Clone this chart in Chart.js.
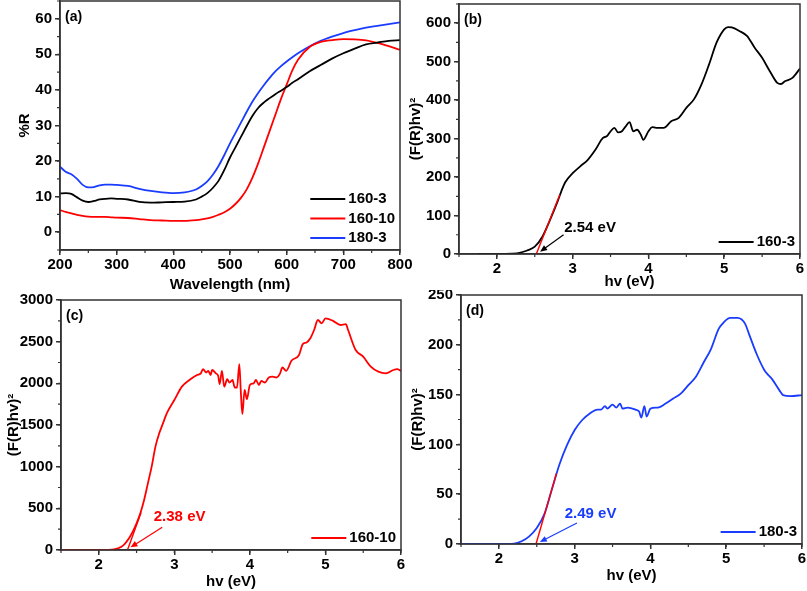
<!DOCTYPE html>
<html>
<head>
<meta charset="utf-8">
<script src="https://cdn.jsdelivr.net/npm/chart.js@4.4.1/dist/chart.umd.min.js"></script>
<style>
  body { margin: 0; background: #fff; }
  #wrap { position: relative; width: 807px; height: 591px; overflow: hidden; background: #fff; }
  canvas { position: absolute; }
</style>
</head>
<body>
<div id="wrap">
  <canvas id="chart-a" style="left:0;top:0" width="420" height="295"></canvas>
  <canvas id="chart-b" style="left:404px;top:0" width="403" height="292"></canvas>
  <canvas id="chart-c" style="left:0;top:290px" width="420" height="301"></canvas>
  <canvas id="chart-d" style="left:404px;top:290px" width="403" height="296"></canvas>
</div>
<script>
// (a) reflectance spectra
const wavelength = [200, 210, 220, 230, 240, 250, 260, 270, 280, 290, 300, 320, 340, 360, 380, 400, 420, 440, 450, 460, 470, 480, 490, 500, 510, 520, 530, 540, 550, 560, 570, 580, 590, 600, 610, 620, 640, 660, 680, 700, 720, 740, 760, 780, 800];
const r160_3  = [10.9, 11.0, 10.8, 9.8, 8.9, 8.5, 8.8, 9.2, 9.4, 9.5, 9.4, 9.2, 8.5, 8.3, 8.4, 8.5, 8.6, 9.2, 10.0, 11.0, 12.5, 14.5, 17.5, 21.0, 24.0, 27.0, 30.0, 32.8, 35.0, 36.5, 37.7, 38.8, 39.8, 40.8, 42.0, 43.0, 45.2, 47.0, 48.8, 50.3, 51.6, 52.8, 53.3, 53.8, 54.0];
const r160_10 = [6.2, 5.7, 5.3, 4.9, 4.6, 4.4, 4.3, 4.3, 4.3, 4.2, 4.1, 4.0, 3.7, 3.4, 3.3, 3.2, 3.2, 3.4, 3.6, 3.9, 4.3, 4.9, 5.6, 6.6, 8.0, 9.8, 12.2, 15.5, 19.5, 24.0, 28.5, 33.0, 37.5, 41.5, 45.5, 48.5, 52.0, 53.5, 54.0, 54.3, 54.2, 53.9, 53.2, 52.3, 51.3];
const r180_3  = [18.4, 17.0, 16.3, 15.0, 13.3, 12.6, 12.7, 13.2, 13.4, 13.4, 13.3, 13.0, 12.2, 11.6, 11.2, 11.0, 11.2, 12.0, 13.0, 14.3, 16.2, 18.7, 21.7, 25.0, 28.0, 31.0, 34.0, 36.8, 39.2, 41.4, 43.4, 45.2, 46.7, 48.0, 49.2, 50.3, 52.2, 53.8, 55.0, 56.0, 56.8, 57.5, 58.0, 58.5, 59.0];

// (b) 160-3 Tauc plot
const energyB = [1.75, 2.0, 2.2, 2.3, 2.4, 2.5, 2.6, 2.7, 2.8, 2.85, 2.9, 3.0, 3.1, 3.2, 3.3, 3.4, 3.45, 3.5, 3.55, 3.6, 3.65, 3.7, 3.75, 3.8, 3.85, 3.9, 3.93, 4.0, 4.05, 4.1, 4.2, 4.3, 4.4, 4.5, 4.6, 4.7, 4.8, 4.9, 5.0, 5.05, 5.1, 5.2, 5.3, 5.4, 5.5, 5.6, 5.7, 5.75, 5.8, 5.9, 6.0];
const taucB   = [0, 0, 1, 3, 9, 19, 45, 88, 136, 163, 186, 210, 228, 245, 271, 302, 306, 319, 328, 316, 319, 332, 343, 319, 323, 310, 297, 319, 330, 328, 328, 345, 354, 380, 402, 441, 493, 550, 584, 590, 589, 580, 567, 537, 510, 476, 445, 442, 449, 458, 482];
const fitB_x = [2.52, 2.83];
const fitB_y = [0, 154];

// (c) 160-10 Tauc plot
const energyC = [1.5, 2.0, 2.1, 2.2, 2.3, 2.35, 2.4, 2.45, 2.5, 2.55, 2.6, 2.65, 2.7, 2.75, 2.8, 2.85, 2.9, 3.0, 3.1, 3.2, 3.3, 3.35, 3.38, 3.42, 3.45, 3.48, 3.5, 3.55, 3.58, 3.6, 3.63, 3.66, 3.7, 3.73, 3.77, 3.8, 3.83, 3.86, 3.88, 3.9, 3.93, 3.96, 4.0, 4.05, 4.08, 4.12, 4.15, 4.2, 4.25, 4.3, 4.35, 4.4, 4.43, 4.48, 4.55, 4.65, 4.7, 4.75, 4.8, 4.85, 4.9, 4.95, 5.0, 5.1, 5.2, 5.27, 5.3, 5.4, 5.5, 5.6, 5.7, 5.8, 5.9, 5.95, 6.0];
const taucC   = [0, 0, 2, 8, 40, 80, 140, 220, 320, 440, 600, 800, 1000, 1240, 1400, 1520, 1640, 1800, 1960, 2040, 2100, 2120, 2170, 2130, 2150, 2100, 2160, 2120, 2090, 1990, 2150, 1960, 2050, 2010, 2040, 1950, 1950, 2230, 1900, 1630, 1920, 1810, 1980, 2000, 2040, 1980, 2030, 2010, 2070, 2080, 2070, 2120, 2190, 2150, 2270, 2340, 2470, 2490, 2540, 2640, 2760, 2720, 2780, 2750, 2700, 2710, 2640, 2400, 2320, 2200, 2140, 2120, 2160, 2170, 2150];
const fitC_x = [2.38, 2.56];
const fitC_y = [0, 450];

// (d) 180-3 Tauc plot
const energyD = [1.5, 2.0, 2.1, 2.2, 2.3, 2.4, 2.5, 2.6, 2.7, 2.8, 2.9, 3.0, 3.1, 3.2, 3.3, 3.35, 3.4, 3.43, 3.5, 3.55, 3.6, 3.63, 3.7, 3.8, 3.85, 3.88, 3.92, 3.95, 4.0, 4.1, 4.2, 4.3, 4.4, 4.5, 4.6, 4.7, 4.8, 4.9, 4.95, 5.0, 5.05, 5.15, 5.25, 5.3, 5.4, 5.5, 5.55, 5.6, 5.7, 5.75, 5.85, 6.0];
const taucD   = [0, 0, 0.1, 0.3, 2.7, 7.7, 16, 30, 55, 80, 99.5, 114.5, 124.5, 131, 135, 135, 138.5, 136, 140, 137, 141, 136, 137, 135, 133, 127, 138.5, 128, 136, 137, 141, 146, 151, 159.5, 168, 182, 196, 216, 221, 225, 227, 227, 221, 211, 191, 175, 170, 166, 154.5, 149.5, 148.5, 149.5];
const fitD_x = [2.49, 2.76];
const fitD_y = [0, 71];

// tick labels
const ticksWave = [200, 300, 400, 500, 600, 700, 800];
const ticksR    = [0, 10, 20, 30, 40, 50, 60];
const ticksEv   = [2, 3, 4, 5, 6];
const ticksB    = [0, 100, 200, 300, 400, 500, 600];
const ticksC    = [0, 500, 1000, 1500, 2000, 2500, 3000];
const ticksD    = [0, 50, 100, 150, 200, 250];

const FONT = '"Liberation Sans", Arial, sans-serif';
const BLACK = '#000000', RED = '#ff0000', BLUE = '#1a3cff', FRAME = '#333333';

Chart.defaults.font.family = FONT;
Chart.defaults.font.weight = 'bold';
Chart.defaults.font.size = 15;
Chart.defaults.color = '#000';

const pts = (xs, ys) => xs.map((x, i) => ({ x, y: ys[i] }));

function axis(isX, min, max, tickVals, size, title, titlePad) {
  return {
    type: 'linear',
    min, max,
    afterFit: s => {
      if (isX) s.height = size; else s.width = size;
      // keep the plot box where it is, labels may hang over the edge
      s.paddingLeft = s.paddingRight = s.paddingTop = s.paddingBottom = 0;
    },
    afterBuildTicks: s => { s.ticks = tickVals.map(v => ({ value: v })); },
    ticks: {
      autoSkip: false, maxRotation: 0, minRotation: 0,
      padding: isX ? 1 : 3,
      color: '#000',
      font: { size: 15, weight: 'bold' },
      callback: v => String(v)
    },
    grid: { drawOnChartArea: false, drawTicks: true, tickLength: 5, color: FRAME, lineWidth: 1.5 },
    border: { display: true, color: FRAME, width: 1.5 },
    title: {
      display: true, text: title, color: '#000',
      font: { size: 15, weight: 'bold' },
      padding: isX ? { top: 0, bottom: titlePad } : { top: titlePad, bottom: 0 }
    }
  };
}

// box around the plot, minor ticks and the panel letter
const framePlugin = {
  id: 'frame',
  afterDraw(chart, args, o) {
    const { ctx, chartArea: a } = chart;
    const xs = chart.scales.x, ys = chart.scales.y;
    ctx.save();
    ctx.strokeStyle = FRAME;
    ctx.lineWidth = 1.5;
    ctx.strokeRect(a.left, a.top, a.right - a.left, a.bottom - a.top);
    ctx.lineWidth = 1.2;
    ctx.beginPath();
    const n0 = Math.ceil(xs.min / o.minorX - 1e-9), n1 = Math.floor(xs.max / o.minorX + 1e-9);
    for (let k = n0; k <= n1; k++) {
      const px = xs.getPixelForValue(k * o.minorX);
      ctx.moveTo(px, a.bottom); ctx.lineTo(px, a.bottom + 3);
    }
    const m0 = Math.ceil(ys.min / o.minorY - 1e-9), m1 = Math.floor(ys.max / o.minorY + 1e-9);
    for (let k = m0; k <= m1; k++) {
      const py = ys.getPixelForValue(k * o.minorY);
      ctx.moveTo(a.left, py); ctx.lineTo(a.left - 3, py);
    }
    ctx.stroke();
    ctx.fillStyle = '#000';
    ctx.font = 'bold 14px ' + FONT;
    ctx.textBaseline = 'middle';
    ctx.textAlign = 'left';
    ctx.fillText(o.tag, a.left + 5, a.top + 16);
    ctx.restore();
  }
};

// legend in the lower right corner
const keyPlugin = {
  id: 'key',
  afterDraw(chart) {
    const { ctx, chartArea: a } = chart;
    const items = chart.data.datasets.filter(d => d.label);
    ctx.save();
    ctx.font = 'bold 15px ' + FONT;
    const w = Math.max(...items.map(d => ctx.measureText(d.label).width));
    const tx = a.right - 5 - w;
    items.forEach((d, i) => {
      const y = a.bottom - 12 - (items.length - 1 - i) * 19.5;
      ctx.strokeStyle = d.borderColor;
      ctx.lineWidth = 2;
      ctx.beginPath();
      ctx.moveTo(tx - 38, y); ctx.lineTo(tx - 3, y);
      ctx.stroke();
      ctx.fillStyle = '#000';
      ctx.textBaseline = 'middle';
      ctx.textAlign = 'left';
      ctx.fillText(d.label, tx, y);
    });
    ctx.restore();
  }
};

// band gap label with arrow
const notePlugin = {
  id: 'gapNote',
  afterDraw(chart, args, o) {
    if (!o.text) return;
    const { ctx } = chart;
    const xs = chart.scales.x, ys = chart.scales.y;
    const P = v => [xs.getPixelForValue(v[0]), ys.getPixelForValue(v[1])];
    const [tx, ty] = P(o.at), [fx, fy] = P(o.from), [hx, hy] = P(o.tip);
    ctx.save();
    ctx.fillStyle = o.color;
    ctx.strokeStyle = o.color;
    ctx.font = 'bold 15px ' + FONT;
    ctx.textAlign = 'center';
    ctx.textBaseline = 'middle';
    ctx.fillText(o.text, tx, ty);
    const ang = Math.atan2(hy - fy, hx - fx);
    ctx.lineWidth = 1.2;
    ctx.beginPath();
    ctx.moveTo(fx, fy);
    ctx.lineTo(hx - 5 * Math.cos(ang), hy - 5 * Math.sin(ang));
    ctx.stroke();
    ctx.beginPath();
    ctx.moveTo(hx, hy);
    ctx.lineTo(hx - 7 * Math.cos(ang) + 3 * Math.sin(ang), hy - 7 * Math.sin(ang) - 3 * Math.cos(ang));
    ctx.lineTo(hx - 7 * Math.cos(ang) - 3 * Math.sin(ang), hy - 7 * Math.sin(ang) + 3 * Math.cos(ang));
    ctx.closePath();
    ctx.fill();
    ctx.restore();
  }
};

function curve(label, xs, ys, color) {
  return { label, data: pts(xs, ys), borderColor: color, borderWidth: 1.8, pointRadius: 0, fill: false, cubicInterpolationMode: 'monotone' };
}
function fitLine(xs, ys) {
  return { data: pts(xs, ys), borderColor: RED, borderWidth: 1.4, pointRadius: 0, fill: false, tension: 0 };
}

function makePanel(id, p) {
  return new Chart(document.getElementById(id), {
    type: 'line',
    data: { datasets: p.datasets },
    options: {
      responsive: false,
      animation: false,
      events: [],
      layout: { padding: p.pad },
      plugins: {
        legend: { display: false },
        tooltip: { enabled: false },
        frame: { tag: p.tag, minorX: p.minorX, minorY: p.minorY },
        gapNote: p.note || {}
      },
      scales: { x: p.x, y: p.y }
    },
    plugins: [framePlugin, keyPlugin, notePlugin]
  });
}

makePanel('chart-a', {
  tag: '(a)', minorX: 50, minorY: 5,
  pad: { top: 1, right: 20, left: 0, bottom: 0 },
  datasets: [
    curve('160-3', wavelength, r160_3, BLACK),
    curve('160-10', wavelength, r160_10, RED),
    curve('180-3', wavelength, r180_3, BLUE)
  ],
  x: axis(true, 200, 800, ticksWave, 45, 'Wavelength (nm)', 1),
  y: axis(false, -5, 65, ticksR, 60, '%R', 16)
});

makePanel('chart-b', {
  tag: '(b)', minorX: 0.5, minorY: 50,
  pad: { top: 4, right: 7, left: 0, bottom: 0 },
  datasets: [fitLine(fitB_x, fitB_y), curve('160-3', energyB, taucB, BLACK)],
  x: axis(true, 1.5, 6, ticksEv, 38, 'hv (eV)', 1),
  y: axis(false, 0, 650, ticksB, 55, '(F(R)hv)²', 3),
  note: { text: '2.54 eV', at: [3.23, 68], from: [2.88, 50], tip: [2.57, 6], color: BLACK }
});

makePanel('chart-c', {
  tag: '(c)', minorX: 0.5, minorY: 250,
  pad: { top: 10, right: 19, left: 0, bottom: 0 },
  datasets: [fitLine(fitC_x, fitC_y), curve('160-10', energyC, taucC, RED)],
  x: axis(true, 1.5, 6, ticksEv, 41, 'hv (eV)', 0),
  y: axis(false, 0, 3000, ticksC, 61, '(F(R)hv)²', 5),
  note: { text: '2.38 eV', at: [3.07, 396], from: [2.84, 272], tip: [2.42, 32], color: RED }
});

makePanel('chart-d', {
  tag: '(d)', minorX: 0.5, minorY: 25,
  pad: { top: 5, right: 5, left: 0, bottom: 0 },
  datasets: [fitLine(fitD_x, fitD_y), curve('180-3', energyD, taucD, BLUE)],
  x: axis(true, 1.5, 6, ticksEv, 42, 'hv (eV)', 1),
  y: axis(false, 0, 250, ticksD, 57, '(F(R)hv)²', 5),
  note: { text: '2.49 eV', at: [3.21, 30], from: [3.03, 21], tip: [2.54, 2], color: BLUE }
});
</script>
</body>
</html>
